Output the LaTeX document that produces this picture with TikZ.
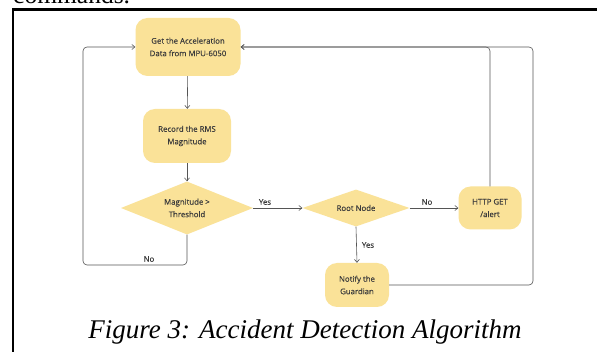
\documentclass[tikz,border=0pt]{standalone}
\usepackage{fontspec}
\setmainfont{Liberation Serif}
\newfontfamily\flowfont[FakeBold=0.35]{Open Sans}
\usetikzlibrary{shapes.geometric,arrows.meta}
\definecolor{boxfill}{RGB}{250,226,152}
\definecolor{inkgray}{RGB}{60,60,60}
\definecolor{wiregray}{RGB}{85,85,85}
\tikzset{
  flowtext/.style={font=\flowfont\fontsize{7.8}{12.5}\selectfont, text=inkgray, align=center},
  procbox/.style={flowtext, fill=boxfill, draw=none, rounded corners=12pt, inner sep=0pt},
  decision/.style={flowtext, diamond, fill=boxfill, draw=none, inner sep=0pt, aspect=2.5},
  wire/.style={draw=wiregray, line width=0.6pt, rounded corners=4pt},
  flow/.style={wire, -{Straight Barb[length=3pt,width=5pt]}},
  tag/.style={flowtext}
}
\begin{document}
\begin{tikzpicture}[x=1pt,y=-1pt]
  \clip (0,0) rectangle (597,352);
  \fill[white] (0,0) rectangle (597,352);

  % text of the preceding paragraph, cut by the page edge
  \node[anchor=base west, inner sep=0pt, font=\fontsize{25.5}{30}\selectfont] (prevline) at (13,4) {commands.};

  % figure frame
  \draw[line width=2.5pt] (13,360) -- (13,9.5) -- (605,9.5);

  % flowchart nodes
  \node[procbox, minimum width=105pt, minimum height=58pt] (acq) at (188,47) {Get the Acceleration\\Data from MPU-6050};
  \node[procbox, minimum width=88pt, minimum height=54pt] (rms) at (187,136) {Record the RMS\\Magnitude};
  \node[decision, minimum width=132pt, minimum height=53pt] (thr) at (187,208) {Magnitude >\\Threshold};
  \node[decision, minimum width=107pt, minimum height=37pt] (root) at (356,208) {Root Node};
  \node[procbox, minimum width=63pt, minimum height=43pt] (http) at (490,208) {HTTP GET\\/alert};
  \node[procbox, minimum width=64pt, minimum height=44pt] (notify) at (357,285) {Notify the\\Guardian};

  \coordinate (loopL) at (83,265);
  \coordinate (loopR) at (533,285);

  % connectors
  \draw[flow] (acq) -- (rms);
  \draw[flow] (rms) -- (thr);
  \draw[flow] (thr.east) -- (root.west);
  \draw[flow] (root.east) -- (http.west);
  \draw[flow] (root.south) -- (notify.north);
  \draw[flow] (thr.south) |- (loopL) |- (acq.west);
  \draw[flow] (notify.east) -- (loopR) |- (acq.east);
  \draw[flow] (http.north) |- (acq.east);

  % connector labels
  \node[tag] (yes1) at (265,202) {Yes};
  \node[tag] (no1) at (427,202) {No};
  \node[tag] (yes2) at (368,245) {Yes};
  \node[tag] (no2) at (149,259) {No};

  % caption
  \node[anchor=base, inner sep=0pt, font=\itshape\fontsize{27}{31}\selectfont] (caption) at (305,339) {Figure 3: Accident Detection Algorithm};
\end{tikzpicture}
\end{document}
